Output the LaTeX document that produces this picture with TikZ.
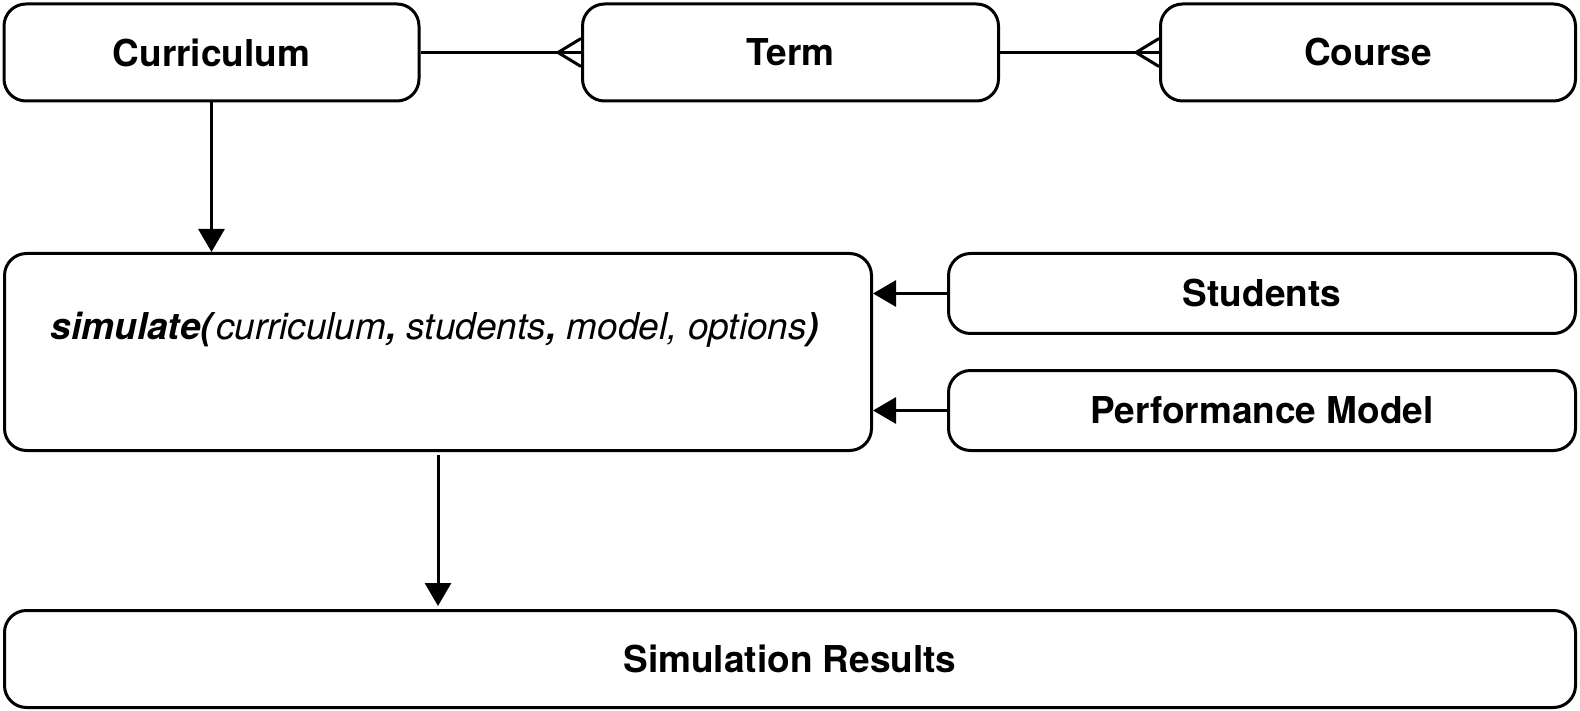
\documentclass[tikz,border=0pt]{standalone}
\usepackage{fontspec}
\setmainfont{TeX Gyre Heros}
\usetikzlibrary{arrows.meta}
\usetikzlibrary{calc}

\tikzset{
	entity/.style={draw,rounded corners=11pt,line width=1.5pt,font=\fontsize{18.5}{22}\selectfont\bfseries,inner sep=0pt},
	link/.style={line width=1.5pt},
}

\begin{document}
\begin{tikzpicture}[x=0.5pt,y=-0.5pt,>/.tip={Triangle[length=11.5pt,width=13pt]},font=\fontsize{18.5}{22}\selectfont]
	\useasboundingbox (0,0) rectangle (1580,711);
	\node (curriculum) [entity,minimum width=207.5pt,minimum height=48.5pt] at (211.5,52.5) {Curriculum};
	\node (term) [entity,minimum width=208pt,minimum height=48.5pt] at (790.5,52.5) {Term};
	\node (course) [entity,minimum width=207.5pt,minimum height=48.5pt] at (1368,52.5) {Course};
	\node (sim) [entity,minimum width=433.5pt,minimum height=98.5pt] at (438,352) {};
	\node (simlabel) at (435,330) {\textbf{\textit{simulate(}}\textit{curriculum}\textbf{\textit{,}} \textit{students}\textbf{\textit{,}} \textit{model, options}\textbf{\textit{)}}};
	\node (students) [entity,minimum width=313.5pt,minimum height=40pt] at (1262,293.5) {Students};
	\node (perf) [entity,minimum width=313.5pt,minimum height=40pt] at (1262,410.5) {Performance Model};
	\node (results) [entity,minimum width=785.5pt,minimum height=48.5pt] at (790,659) {Simulation Results};

	% one-to-many links
	\draw[link] (curriculum) -- (term);
	\draw[link] ($(term.west)+(-23,0)$) -- ($(term.west)+(0,-14)$);
	\draw[link] ($(term.west)+(-23,0)$) -- ($(term.west)+(0,14)$);
	\draw[link] (term) -- (course);
	\draw[link] ($(course.west)+(-23,0)$) -- ($(course.west)+(0,-14)$);
	\draw[link] ($(course.west)+(-23,0)$) -- ($(course.west)+(0,14)$);

	% inputs and output
	\draw[link,->] (curriculum.south) -- (curriculum.south |- sim.north);
	\draw[link,->] (students.west) -- (students.west -| sim.east);
	\draw[link,->] (perf.west) -- (perf.west -| sim.east);
	\draw[link,->,shorten <=1.5pt,shorten >=1.5pt] (sim.south) -- (sim.south |- results.north);
\end{tikzpicture}
\end{document}
